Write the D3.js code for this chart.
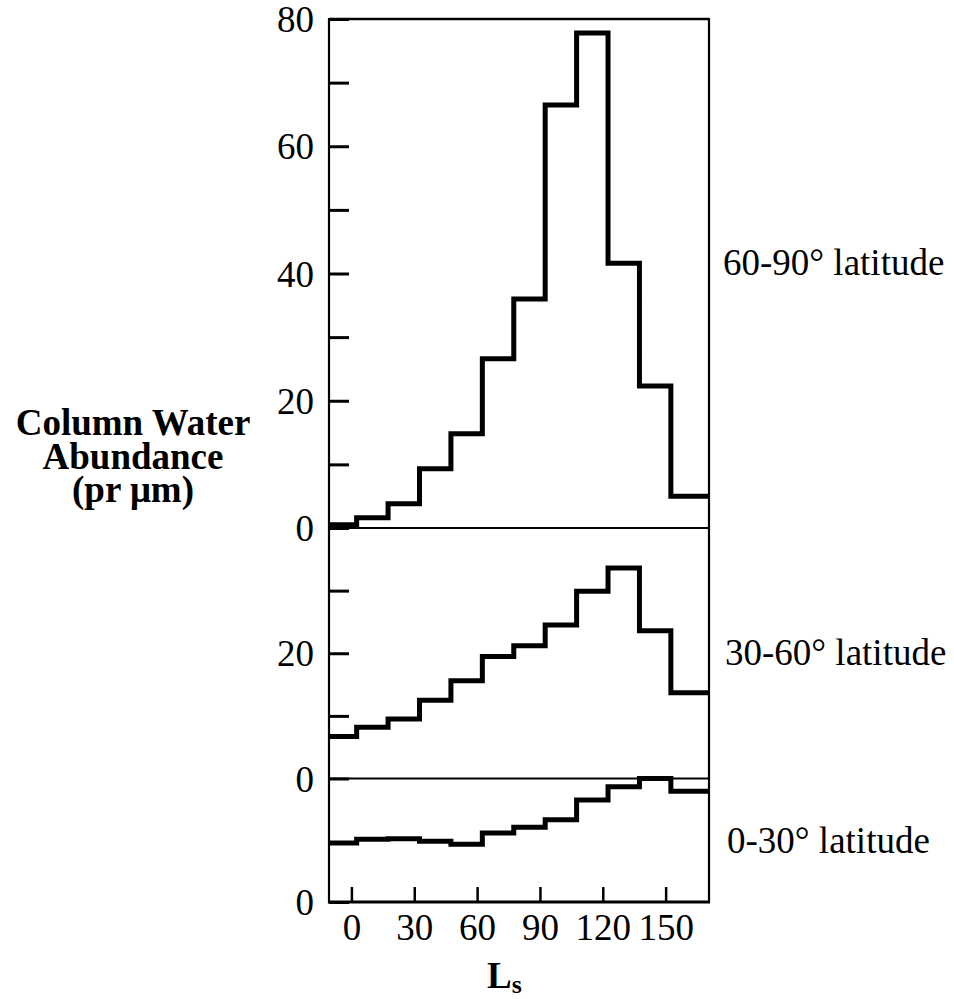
<!DOCTYPE html>
<html>
<head>
<meta charset="utf-8">
<script src="https://cdn.jsdelivr.net/npm/d3@7"></script>
<style>
  body { margin: 0; background: #fff; }
  svg text { font-family: "Liberation Serif", "Times New Roman", serif; fill: #000; }
</style>
</head>
<body>
<div id="chart"></div>
<script>
// Ls bin edges (degrees) between the histogram steps
const lsEdges = [2.5, 17.5, 32.5, 47.5, 62.5, 77.5, 92.5, 107.5, 122.5, 137.5, 152.5];
const lsTicks = [0, 30, 60, 90, 120, 150];

// column water abundance (pr um) per Ls bin
const lat6090 = [0.5, 1.6, 3.8, 9.3, 14.8, 26.6, 36.0, 66.5, 77.8, 41.6, 22.3, 5.0];
const lat3060 = [6.7, 8.2, 9.5, 12.5, 15.6, 19.5, 21.2, 24.5, 29.9, 33.6, 23.6, 13.7];
const lat0030 = [9.3, 9.9, 10.0, 9.6, 9.1, 10.9, 11.8, 13.0, 16.1, 18.2, 19.5, 17.5];

const panelNames = ["60-90\u00b0 latitude", "30-60\u00b0 latitude", "0-30\u00b0 latitude"];

const width = 954, height = 999;
const fLeft = 329, fRight = 709, fTop = 19, fBottom = 902;

const svg = d3.select("#chart")
    .append("svg")
    .attr("width", width)
    .attr("height", height);

const x = d3.scaleLinear().domain([-10.7, 170.7]).range([fLeft, fRight]);
const [xmin, xmax] = x.domain();

// one y scale per stacked panel
const panels = [
    {values: lat6090, y: d3.scaleLinear().domain([0, 80]).range([528, fTop]),
     ticks: d3.range(0, 81, 10), labels: [0, 20, 40, 60, 80], name: panelNames[0], ny: 275, nx: 723},
    {values: lat3060, y: d3.scaleLinear().domain([0, 40]).range([778.5, 528]),
     ticks: [0, 10, 20, 30], labels: [0, 20], name: panelNames[1], ny: 665, nx: 725},
    {values: lat0030, y: d3.scaleLinear().domain([0, 19.5]).range([fBottom, 778.5]),
     ticks: [0], labels: [0], name: panelNames[2], ny: 853, nx: 727}
];

const line = d3.line()
    .x(d => x(d[0]))
    .y(d => d[1])
    .curve(d3.curveStepAfter);

panels.forEach(p => {
    // y axis with inward ticks
    const ax = svg.append("g")
        .attr("transform", `translate(${fLeft},0)`)
        .call(d3.axisLeft(p.y)
            .tickValues(p.ticks)
            .tickSizeInner(-20)
            .tickSizeOuter(0)
            .tickPadding(15)
            .tickFormat(d => p.labels.includes(d) ? d : ""));
    ax.select(".domain").remove();
    ax.selectAll(".tick line").attr("stroke", "#000").attr("stroke-width", 3);
    ax.selectAll(".tick text")
        .attr("font-size", 37)
        .attr("font-family", "Liberation Serif")
        .attr("dy", "0.34em");

    // histogram
    const edges = [xmin].concat(lsEdges);
    const pts = p.values.map((v, i) => [edges[i], p.y(v)]);
    pts.push([xmax, p.y(p.values[p.values.length - 1])]);
    svg.append("path")
        .attr("d", line(pts))
        .attr("fill", "none")
        .attr("stroke", "#000")
        .attr("stroke-width", 5)
        .attr("stroke-linejoin", "miter");

    // panel name on the right
    svg.append("text")
        .attr("x", p.nx)
        .attr("y", p.ny)
        .attr("font-size", 37)
        .text(p.name);
});

// panel separators
svg.selectAll("line.sep")
    .data([panels[0].y(0), panels[1].y(0)])
    .join("line")
    .attr("class", "sep")
    .attr("x1", fLeft).attr("x2", fRight)
    .attr("y1", d => d).attr("y2", d => d)
    .attr("stroke", "#000")
    .attr("stroke-width", 2.2);

// frame
svg.append("line").attr("x1", fLeft).attr("x2", fRight).attr("y1", fTop).attr("y2", fTop)
    .attr("stroke", "#000").attr("stroke-width", 2.5);
svg.append("line").attr("x1", fLeft).attr("x2", fLeft).attr("y1", fTop - 1).attr("y2", fBottom + 1)
    .attr("stroke", "#000").attr("stroke-width", 2.2);
svg.append("line").attr("x1", fRight).attr("x2", fRight).attr("y1", fTop - 1).attr("y2", fBottom + 1)
    .attr("stroke", "#000").attr("stroke-width", 2.2);

// x axis
const xa = svg.append("g")
    .attr("transform", `translate(0,${fBottom})`)
    .call(d3.axisBottom(x)
        .tickValues(lsTicks)
        .tickSizeInner(-15)
        .tickSizeOuter(0)
        .tickPadding(12));
xa.select(".domain").remove();
xa.selectAll(".tick line").attr("stroke", "#000").attr("stroke-width", 2.5);
xa.selectAll(".tick text")
    .attr("font-size", 37)
    .attr("font-family", "Liberation Serif");
svg.append("line").attr("x1", fLeft - 1).attr("x2", fRight + 1).attr("y1", fBottom).attr("y2", fBottom)
    .attr("stroke", "#000").attr("stroke-width", 3);

// x title
const xt = svg.append("text")
    .attr("x", 487)
    .attr("y", 988)
    .attr("font-weight", "bold")
    .attr("font-size", 37);
xt.append("tspan").text("L");
xt.append("tspan").attr("dy", 5).attr("font-size", 26).text("s");

// y title
const ytitle = ["Column Water", "Abundance", "(pr \u03bcm)"];
svg.append("g")
    .selectAll("text")
    .data(ytitle)
    .join("text")
    .attr("x", 133)
    .attr("y", (d, i) => 435 + i * 33.5)
    .attr("text-anchor", "middle")
    .attr("font-weight", "bold")
    .attr("font-size", 37)
    .text(d => d);
</script>
</body>
</html>
